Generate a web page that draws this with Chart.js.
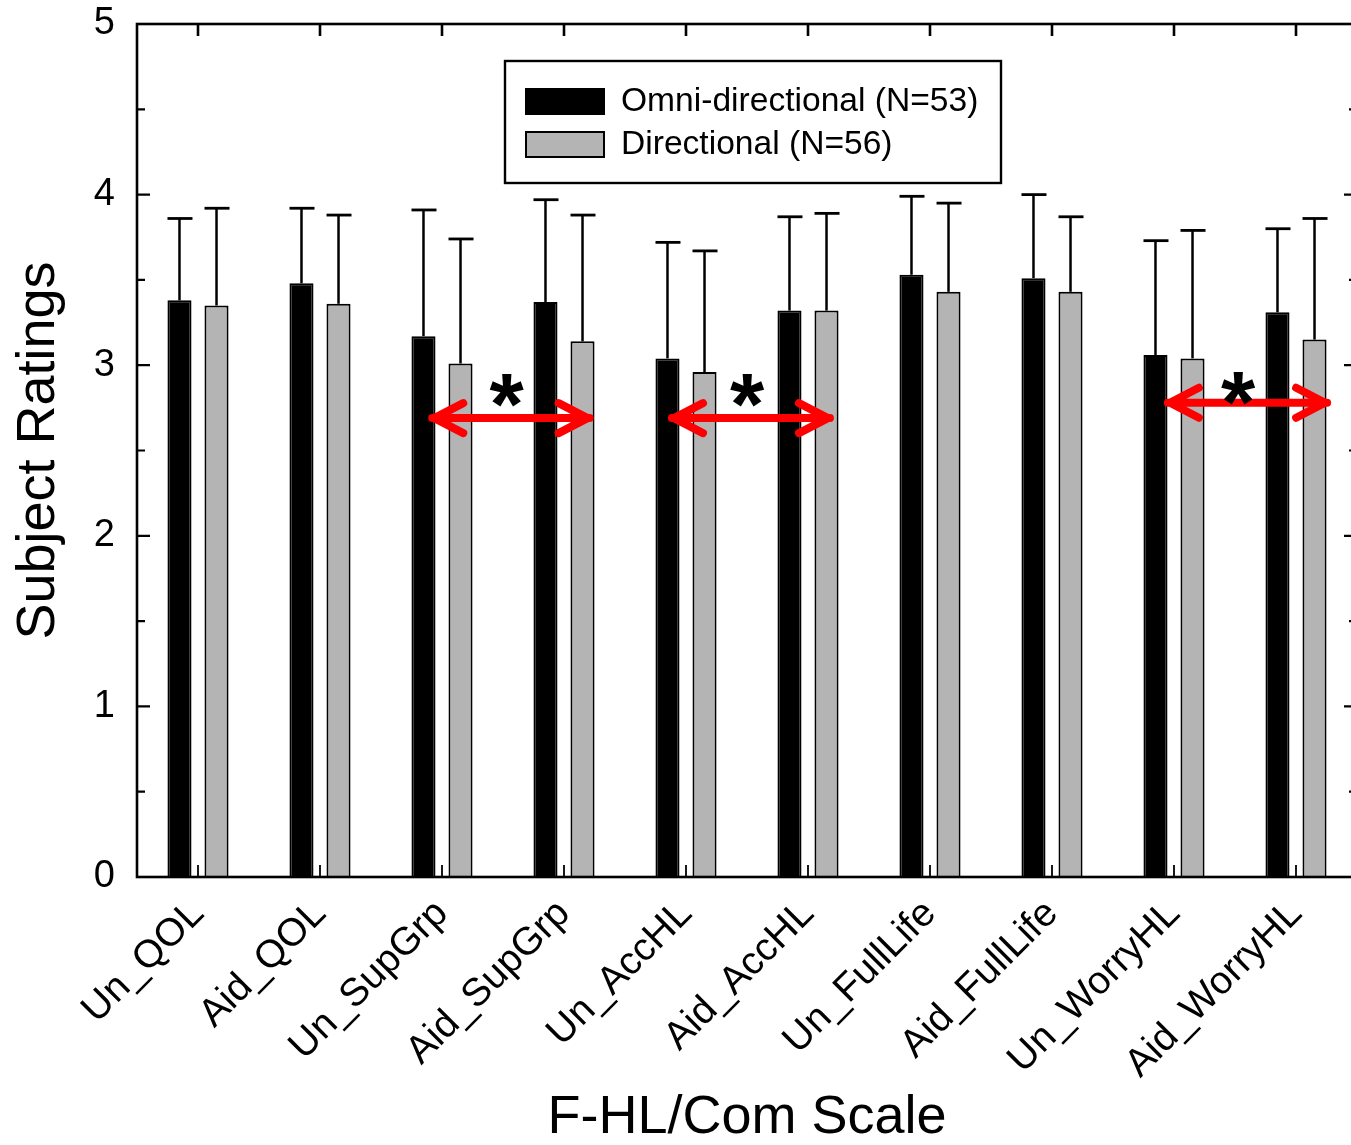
<!DOCTYPE html>
<html>
<head>
<meta charset="utf-8">
<script src="https://cdn.jsdelivr.net/npm/chart.js@4.4.1/dist/chart.umd.min.js"></script>
<style>
    html, body { margin: 0; padding: 0; background: #fff; overflow: hidden; }
    #ratingsChart { display: block; }
</style>
</head>
<body>
<canvas id="ratingsChart"></canvas>
<script>
// F-HL/Com scale items
const categories = ['Un_QOL', 'Aid_QOL', 'Un_SupGrp', 'Aid_SupGrp', 'Un_AccHL',
    'Aid_AccHL', 'Un_FullLife', 'Aid_FullLife', 'Un_WorryHL', 'Aid_WorryHL'];

// mean ratings + SD (upper error bar only)
const omniMeans = [3.38, 3.48, 3.17, 3.37, 3.04, 3.32, 3.53, 3.51, 3.06, 3.31];
const omniSD    = [0.48, 0.44, 0.74, 0.60, 0.68, 0.55, 0.46, 0.49, 0.67, 0.49];
const dirMeans  = [3.35, 3.36, 3.01, 3.14, 2.96, 3.32, 3.43, 3.43, 3.04, 3.15];
const dirSD     = [0.57, 0.52, 0.73, 0.74, 0.71, 0.57, 0.52, 0.44, 0.75, 0.71];

const yTicks = [0, 1, 2, 3, 4, 5];

// significance markers, in category index / rating units
const arrowFrom  = [1.92, 3.885, 7.95];
const arrowTo    = [3.21, 5.18, 9.255];
const arrowLevel = [2.69, 2.69, 2.78];
const starAt     = [2.53, 4.5, 8.525];
const starLevel  = [2.89, 2.89, 2.90];

const FONT = "'Liberation Sans', Arial, Helvetica, sans-serif";

// draws frame, inward ticks, error bars, legend and the red arrows
const decorations = {
    id: 'decorations',
    afterDatasetsDraw(chart) {
        const ctx = chart.ctx;
        const area = chart.chartArea;
        const xs = chart.scales.x;
        const ys = chart.scales.y;
        ctx.save();
        ctx.strokeStyle = '#000';
        ctx.lineCap = 'butt';

        // error bars
        const sds = [omniSD, dirSD];
        chart.data.datasets.forEach((ds, di) => {
            const meta = chart.getDatasetMeta(di);
            meta.data.forEach((bar, i) => {
                const top = ys.getPixelForValue(ds.data[i] + sds[di][i]);
                ctx.lineWidth = 2.5;
                ctx.beginPath();
                ctx.moveTo(bar.x, bar.y);
                ctx.lineTo(bar.x, top);
                ctx.stroke();
                ctx.lineWidth = 2.8;
                ctx.beginPath();
                ctx.moveTo(bar.x - 12, top);
                ctx.lineTo(bar.x + 13, top);
                ctx.stroke();
            });
        });

        // frame
        ctx.lineWidth = 2.6;
        ctx.strokeRect(area.left, area.top, area.right - area.left, area.bottom - area.top);

        // y ticks, inward on both sides
        ctx.lineWidth = 2.2;
        for (let v = 0; v <= 5; v += 0.5) {
            const y = ys.getPixelForValue(v);
            const len = Number.isInteger(v) ? 13 : 8;
            ctx.beginPath();
            ctx.moveTo(area.left, y);
            ctx.lineTo(area.left + len, y);
            ctx.moveTo(area.right, y);
            ctx.lineTo(area.right - len, y);
            ctx.stroke();
        }
        // x ticks at category centres
        categories.forEach((c, i) => {
            const x = xs.getPixelForValue(i);
            ctx.lineWidth = 2.6;
            ctx.beginPath();
            ctx.moveTo(x, area.top);
            ctx.lineTo(x, area.top + 12);
            ctx.stroke();
            ctx.lineWidth = 1.8;
            ctx.beginPath();
            ctx.moveTo(x, area.bottom);
            ctx.lineTo(x, area.bottom - 12);
            ctx.stroke();
        });

        // legend box
        const lx = area.left + 368, ly = area.top + 37;
        ctx.fillStyle = '#fff';
        ctx.fillRect(lx, ly, 496, 122);
        ctx.lineWidth = 2.4;
        ctx.strokeRect(lx, ly, 496, 122);
        ctx.font = '33.6px ' + FONT;
        ctx.textBaseline = 'middle';
        chart.data.datasets.forEach((ds, di) => {
            const sy = ly + 28 + di * 43;
            ctx.fillStyle = ds.backgroundColor;
            ctx.fillRect(lx + 21, sy, 78, 25);
            ctx.lineWidth = 2;
            ctx.strokeRect(lx + 21, sy, 78, 25);
            ctx.fillStyle = '#000';
            ctx.fillText(ds.label, lx + 116, sy + 13);
        });

        // significance arrows
        ctx.strokeStyle = '#ff0000';
        ctx.lineWidth = 8;
        ctx.lineCap = 'round';
        ctx.lineJoin = 'round';
        arrowFrom.forEach((f, k) => {
            const x1 = xs.getPixelForValue(f);
            const x2 = xs.getPixelForValue(arrowTo[k]);
            const y = ys.getPixelForValue(arrowLevel[k]);
            ctx.beginPath();
            ctx.moveTo(x1, y);
            ctx.lineTo(x2, y);
            ctx.moveTo(x1 + 31, y - 15);
            ctx.lineTo(x1 + 2, y);
            ctx.lineTo(x1 + 31, y + 15);
            ctx.moveTo(x2 - 31, y - 15);
            ctx.lineTo(x2 - 2, y);
            ctx.lineTo(x2 - 31, y + 15);
            ctx.stroke();
        });
        ctx.fillStyle = '#000';
        ctx.font = 'bold 88px ' + FONT;
        ctx.textAlign = 'center';
        ctx.textBaseline = 'alphabetic';
        starAt.forEach((s, k) => {
            ctx.fillText('*', xs.getPixelForValue(s), ys.getPixelForValue(starLevel[k]) + 50);
        });
        ctx.restore();
    }
};

const canvas = document.getElementById('ratingsChart');
canvas.width = 1360;
canvas.height = 1145;

Chart.defaults.font.family = FONT;
Chart.defaults.color = '#000';

new Chart(canvas.getContext('2d'), {
    type: 'bar',
    data: {
        labels: categories,
        datasets: [{
            label: 'Omni-directional (N=53)',
            data: omniMeans,
            backgroundColor: '#000000',
            borderColor: '#000000',
            borderWidth: 2,
            categoryPercentage: 0.607,
            barPercentage: 0.65
        }, {
            label: 'Directional (N=56)',
            data: dirMeans,
            backgroundColor: '#b4b4b4',
            borderColor: '#000000',
            borderWidth: 2,
            categoryPercentage: 0.607,
            barPercentage: 0.65
        }]
    },
    options: {
        responsive: false,
        animation: false,
        layout: { padding: { top: 24, right: 3, left: 0, bottom: 0 } },
        plugins: {
            legend: { display: false },
            tooltip: { enabled: false }
        },
        scales: {
            x: {
                grid: { display: true, drawOnChartArea: false, drawTicks: false, color: 'rgba(0,0,0,0)' },
                border: { display: false },
                ticks: {
                    autoSkip: false,
                    maxRotation: 45,
                    minRotation: 45,
                    padding: 14,
                    font: { size: 39 }
                },
                title: {
                    display: true,
                    text: 'F-HL/Com Scale',
                    font: { size: 54, lineHeight: 1 },
                    padding: { top: 0, bottom: 0 }
                },
                afterFit(scale) {
                    scale.height = 268;
                    scale.paddingLeft = 0;
                    scale.paddingRight = 0;
                }
            },
            y: {
                min: 0,
                max: 5,
                afterBuildTicks(scale) { scale.ticks = yTicks.map(v => ({ value: v })); },
                grid: { display: true, drawOnChartArea: false, drawTicks: false, color: 'rgba(0,0,0,0)' },
                border: { display: false },
                ticks: { padding: 22, font: { size: 38 } },
                title: {
                    display: true,
                    text: 'Subject Ratings',
                    font: { size: 54, lineHeight: 1 },
                    padding: { top: 12, bottom: 0 }
                },
                afterFit(scale) {
                    scale.width = 137;
                    scale.paddingTop = 0;
                    scale.paddingBottom = 0;
                }
            }
        }
    },
    plugins: [decorations]
});
</script>
</body>
</html>
